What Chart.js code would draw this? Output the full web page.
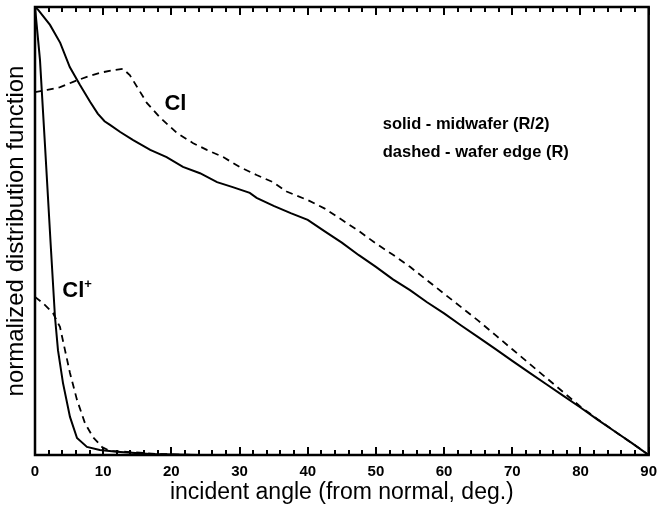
<!DOCTYPE html>
<html>
<head>
<meta charset="utf-8">
<script src="https://cdn.jsdelivr.net/npm/chart.js@4/dist/chart.umd.min.js"></script>
<style>
  html, body { margin: 0; padding: 0; background: #fff; }
  canvas { display: block; }
</style>
</head>
<body>
<canvas id="c" width="665" height="514"></canvas>
<script>
// Incident angular distribution of Cl and Cl+ at two wafer positions
const xTicks = [0, 10, 20, 30, 40, 50, 60, 70, 80, 90];
const xMinorStep = 2;

// Cl neutral, midwafer (R/2) - solid
const clMidAngle = [0, 0.5, 2.2, 3.7, 5.1, 6.6, 8.1, 9.2, 10.2, 11, 12.5, 14.4, 16.9, 19.3, 21.7, 24.2, 26.7, 29, 31.5, 32.5, 35, 37.5,
  40, 42.5, 45, 47.5, 50, 52.5, 55, 57.5, 60, 62.5, 65, 67.5, 70, 72.5, 75, 77.5, 80, 82.5, 85, 87.5, 90];
const clMidValue = [1.0, 0.993, 0.96, 0.92, 0.866, 0.826, 0.788, 0.762, 0.745, 0.737, 0.721, 0.703, 0.681, 0.665, 0.643, 0.629, 0.609, 0.598, 0.585, 0.574, 0.556, 0.54,
  0.525, 0.499, 0.474, 0.446, 0.42, 0.392, 0.368, 0.341, 0.316, 0.289, 0.263, 0.237, 0.21, 0.184, 0.158, 0.132, 0.106, 0.079, 0.053, 0.027, 0];

// Cl neutral, wafer edge (R) - dashed
const clEdgeAngle = [0, 1.8, 3.7, 5.6, 7.6, 9.5, 11.4, 12.9, 13.9, 15, 16.4, 18.3, 20.8, 23.2, 25.2, 27.6, 30, 32.5, 34.9, 36.9,
  40, 42.5, 45, 47.5, 50, 52.5, 55, 57.5, 60, 62.5, 65, 67.5, 70, 72.5, 75, 77.5, 80, 82.5, 85, 87.5, 90];
const clEdgeValue = [0.81, 0.815, 0.821, 0.833, 0.844, 0.853, 0.859, 0.862, 0.848, 0.821, 0.786, 0.754, 0.719, 0.696, 0.681, 0.665, 0.643, 0.625, 0.609, 0.588,
  0.569, 0.55, 0.525, 0.5, 0.472, 0.447, 0.42, 0.39, 0.36, 0.33, 0.3, 0.268, 0.236, 0.204, 0.172, 0.14, 0.108, 0.08, 0.053, 0.027, 0];

// Cl+ ion, midwafer (R/2) - solid
const ionMidAngle = [0, 0.73, 1.47, 2.3, 2.93, 3.37, 4.1, 5.13, 6.16, 7.62, 9.5, 12, 16.9, 24, 30];
const ionMidValue = [1.0, 0.882, 0.69, 0.47, 0.308, 0.234, 0.161, 0.085, 0.038, 0.018, 0.011, 0.007, 0.002, 0, 0];

// Cl+ ion, wafer edge (R) - dashed
const ionEdgeAngle = [0, 1.17, 2.64, 3.66, 4.4, 5.13, 6.16, 7.33, 8.5, 9.82, 11, 13.5, 18.3, 24, 30];
const ionEdgeValue = [0.353, 0.339, 0.317, 0.286, 0.234, 0.183, 0.123, 0.071, 0.04, 0.018, 0.009, 0.007, 0.002, 0, 0];

const FONT = "'Liberation Sans', Arial, Helvetica, sans-serif";

const pts = (xs, ys) => xs.map((x, i) => ({ x, y: ys[i] }));

// frame, inward tick marks on bottom and top, and in-plot labels
const decorations = {
  id: 'decorations',
  afterDraw(chart) {
    const { ctx, chartArea: a } = chart;
    const x = chart.scales.x, y = chart.scales.y;
    ctx.save();
    ctx.setLineDash([]);
    ctx.strokeStyle = '#000';
    ctx.lineWidth = 2;
    ctx.beginPath();
    for (let v = x.min; v <= x.max; v += xMinorStep) {
      const px = Math.round(x.getPixelForValue(v));
      const len = v % 10 === 0 ? 8 : 5;
      ctx.moveTo(px, a.bottom);
      ctx.lineTo(px, a.bottom - len);
      ctx.moveTo(px, a.top);
      ctx.lineTo(px, a.top + len);
    }
    ctx.stroke();
    ctx.lineWidth = 2.5;
    ctx.strokeRect(a.left, a.top, a.right - a.left, a.bottom - a.top);

    ctx.fillStyle = '#000';
    ctx.textBaseline = 'middle';
    ctx.textAlign = 'center';
    ctx.font = 'bold 22px ' + FONT;
    ctx.fillText('Cl', x.getPixelForValue(20.6), y.getPixelForValue(0.783));
    ctx.textAlign = 'left';
    const ionX = x.getPixelForValue(4.0), ionY = y.getPixelForValue(0.366);
    ctx.fillText('Cl', ionX, ionY);
    const w = ctx.measureText('Cl').width;
    ctx.font = 'bold 13px ' + FONT;
    ctx.fillText('+', ionX + w, ionY - 7);
    ctx.font = 'bold 16.5px ' + FONT;
    ctx.fillText('solid - midwafer (R/2)', x.getPixelForValue(51.0), y.getPixelForValue(0.737));
    ctx.fillText('dashed - wafer edge (R)', x.getPixelForValue(51.0), y.getPixelForValue(0.676));
    ctx.restore();
  }
};

const solid = { borderColor: '#000', borderWidth: 2, pointRadius: 0, tension: 0, fill: false };
const dashed = { borderColor: '#000', borderWidth: 1.8, borderDash: [7, 5], pointRadius: 0, tension: 0, fill: false };

new Chart(document.getElementById('c'), {
  type: 'line',
  data: {
    datasets: [
      { label: 'Cl midwafer (R/2)', data: pts(clMidAngle, clMidValue), ...solid },
      { label: 'Cl wafer edge (R)', data: pts(clEdgeAngle, clEdgeValue), ...dashed },
      { label: 'Cl+ midwafer (R/2)', data: pts(ionMidAngle, ionMidValue), ...solid },
      { label: 'Cl+ wafer edge (R)', data: pts(ionEdgeAngle, ionEdgeValue), ...dashed }
    ]
  },
  options: {
    responsive: false,
    devicePixelRatio: 1,
    animation: false,
    layout: { padding: { top: 7, right: 16, left: 0, bottom: 0 } },
    plugins: { legend: { display: false }, tooltip: { enabled: false } },
    scales: {
      x: {
        type: 'linear', min: 0, max: 90,
        afterBuildTicks: s => { s.ticks = xTicks.map(v => ({ value: v })); },
        afterFit: s => { s.height = 59; },
        grid: { display: false, drawTicks: false },
        border: { display: false },
        ticks: { color: '#000', padding: 8, font: { family: FONT, size: 15, weight: 'bold' }, maxRotation: 0, autoSkip: false },
        title: { display: true, text: 'incident angle (from normal, deg.)', color: '#000',
                 font: { family: FONT, size: 23 }, padding: { top: 0, bottom: 8 } }
      },
      y: {
        min: 0, max: 1,
        afterFit: s => { s.width = 35; },
        grid: { display: false, drawTicks: false },
        border: { display: false },
        ticks: { display: false },
        title: { display: true, text: 'normalized distribution function', color: '#000',
                 font: { family: FONT, size: 24 }, padding: { top: 2, bottom: 0 } }
      }
    }
  },
  plugins: [decorations]
});
</script>
</body>
</html>
